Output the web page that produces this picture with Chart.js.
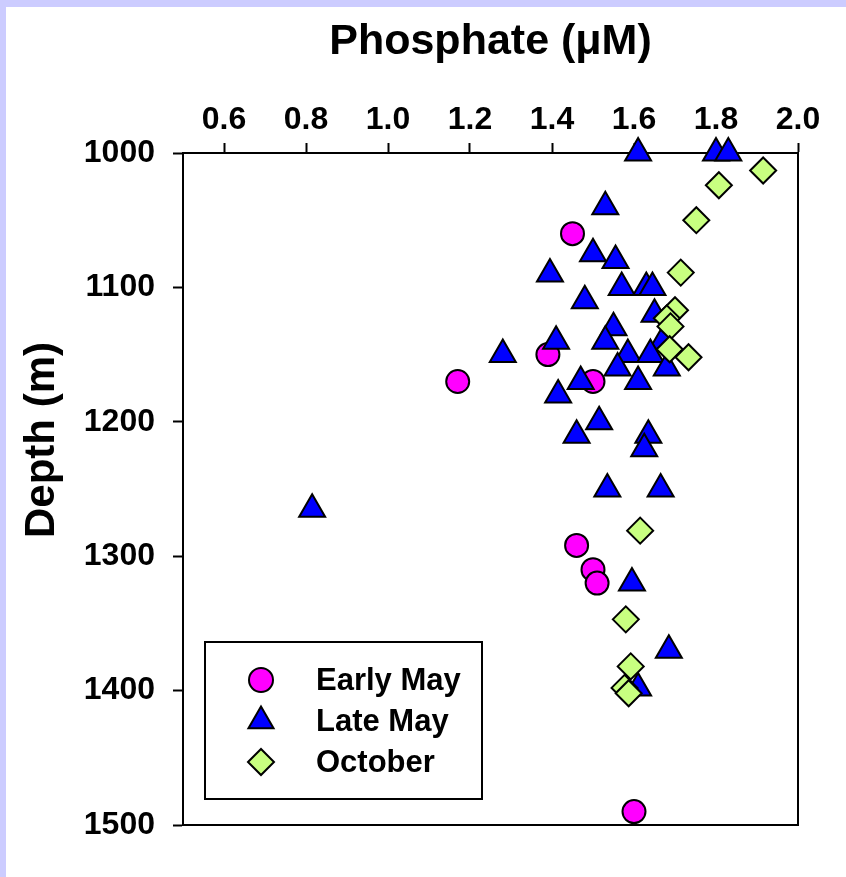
<!DOCTYPE html>
<html>
<head>
<meta charset="utf-8">
<script src="https://cdn.jsdelivr.net/npm/chart.js@4.4.1/dist/chart.umd.min.js"></script>
<style>
  html, body { margin: 0; padding: 0; background: #ccccff; }
  #wrap { position: absolute; left: 6px; top: 7px; width: 840px; height: 870px; background: #fff; }
</style>
</head>
<body>
<div id="wrap"><canvas id="phosChart"></canvas></div>
<script>
// Phosphate vs depth profile, three sampling periods

const seriesNames = ['Early May', 'Late May', 'October'];

const earlyMayPhos  = [1.45, 1.39, 1.17, 1.50, 1.46, 1.50, 1.51, 1.60];
const earlyMayDepth = [1060, 1150, 1170, 1170, 1292, 1310, 1320, 1490];

const lateMayPhos  = [1.61, 1.80, 1.83, 1.53, 1.50, 1.555, 1.395, 1.57, 1.63, 1.645, 1.48, 1.65, 1.55, 1.41, 1.53, 1.67, 1.28,
                      1.585, 1.64, 1.56, 1.68, 1.47, 1.61, 1.415, 1.515, 1.46, 1.635, 1.625, 1.535, 1.665, 0.815, 1.595, 1.685, 1.61];
const lateMayDepth = [1000, 1000, 1000, 1040, 1075, 1080, 1090, 1100, 1100, 1100, 1110, 1120, 1130, 1140, 1140, 1140, 1150,
                      1150, 1150, 1160, 1160, 1170, 1170, 1180, 1200, 1210, 1210, 1220, 1250, 1250, 1265, 1320, 1370, 1398];

const octoberPhos  = [1.915, 1.807, 1.752, 1.714, 1.70, 1.68, 1.689, 1.687, 1.733, 1.615, 1.58, 1.592, 1.577, 1.587];
const octoberDepth = [1013, 1024, 1050, 1089, 1117, 1123, 1129, 1146, 1152, 1281, 1347, 1382, 1398, 1402];

const phosTicks  = [0.6, 0.8, 1.0, 1.2, 1.4, 1.6, 1.8, 2.0];
const depthTicks = [1000, 1100, 1200, 1300, 1400, 1500];

function toPoints(xs, ys) {
  return xs.map((x, i) => ({ x: x, y: ys[i] }));
}

Chart.defaults.font.family = 'Arial, "Liberation Sans", sans-serif';
Chart.defaults.color = '#000';

// frame round the plot area
const frameBox = {
  id: 'frameBox',
  beforeDatasetsDraw(chart) {
    const { ctx, chartArea: a } = chart;
    ctx.save();
    ctx.strokeStyle = '#000';
    ctx.lineWidth = 2;
    ctx.strokeRect(a.left, a.top, a.right - a.left, a.bottom - a.top);
    ctx.restore();
  }
};

// rotated y title, sits a bit above the middle like the original
const depthTitle = {
  id: 'depthTitle',
  afterDraw(chart) {
    const ctx = chart.ctx;
    ctx.save();
    ctx.translate(36, 433);
    ctx.rotate(-Math.PI / 2);
    ctx.font = 'bold 42px Arial, "Liberation Sans", sans-serif';
    ctx.fillStyle = '#000';
    ctx.textAlign = 'center';
    ctx.textBaseline = 'middle';
    ctx.fillText('Depth (m)', 0, 0);
    ctx.restore();
  }
};

// boxed legend in the lower left of the plot
const boxLegend = {
  id: 'boxLegend',
  afterDatasetsDraw(chart) {
    const { ctx, chartArea: a } = chart;
    const left = a.left + 22, top = a.bottom - 26 - 157;
    ctx.save();
    ctx.fillStyle = '#fff';
    ctx.fillRect(left, top, 277, 157);
    ctx.strokeStyle = '#000';
    ctx.lineWidth = 2;
    ctx.strokeRect(left, top, 277, 157);
    const rows = [38, 79, 120];
    chart.data.datasets.forEach((ds, i) => {
      ctx.fillStyle = ds.backgroundColor;
      ctx.strokeStyle = ds.borderColor;
      ctx.lineWidth = 2;
      const r = ds.pointStyle === 'circle' ? 12 : ds.pointStyle === 'triangle' ? 14.5 : 13;
      Chart.helpers.drawPoint(ctx, { pointStyle: ds.pointStyle, radius: r, borderWidth: 2, rotation: 0 }, left + 56, top + rows[i]);
      ctx.fillStyle = '#000';
      ctx.font = 'bold 31px Arial, "Liberation Sans", sans-serif';
      ctx.textAlign = 'left';
      ctx.textBaseline = 'middle';
      ctx.fillText(ds.label, left + 111, top + rows[i] + 1);
    });
    ctx.restore();
  }
};

new Chart(document.getElementById('phosChart'), {
  type: 'scatter',
  data: {
    datasets: [
      {
        label: seriesNames[0],
        data: toPoints(earlyMayPhos, earlyMayDepth),
        pointStyle: 'circle',
        pointRadius: 11.5,
        backgroundColor: '#ff00ff',
        borderColor: '#000',
        borderWidth: 2,
        order: 2,
        clip: false
      },
      {
        label: seriesNames[1],
        data: toPoints(lateMayPhos, lateMayDepth),
        pointStyle: 'triangle',
        pointRadius: 15,
        backgroundColor: '#0000ff',
        borderColor: '#000',
        borderWidth: 2,
        order: 1,
        clip: false
      },
      {
        label: seriesNames[2],
        data: toPoints(octoberPhos, octoberDepth),
        pointStyle: 'rectRot',
        pointRadius: 13,
        backgroundColor: '#c8ff80',
        borderColor: '#000',
        borderWidth: 2,
        order: 0,
        clip: false
      }
    ]
  },
  options: {
    responsive: true,
    maintainAspectRatio: false,
    animation: false,
    layout: { padding: { left: 0, top: 0, right: 48, bottom: 52 } },
    plugins: {
      legend: { display: false },
      tooltip: { enabled: false }
    },
    scales: {
      x: {
        type: 'linear',
        position: 'top',
        min: 0.5,
        max: 2.0,
        afterBuildTicks: s => { s.ticks = phosTicks.map(v => ({ value: v })); },
        afterFit: s => { s.height = 146; },
        ticks: {
          padding: 4,
          font: { size: 32, weight: 'bold' },
          callback: v => v.toFixed(1)
        },
        grid: { drawOnChartArea: false, drawTicks: true, tickLength: 10, tickWidth: 2, tickColor: '#000' },
        border: { display: true, color: '#000', width: 2 },
        title: {
          display: true,
          text: 'Phosphate (\u03bcM)',
          font: { size: 43, weight: 'bold' },
          padding: { top: 9, bottom: 0 }
        }
      },
      y: {
        type: 'linear',
        reverse: true,
        min: 1000,
        max: 1500,
        afterBuildTicks: s => { s.ticks = depthTicks.map(v => ({ value: v })); },
        afterFit: s => { s.width = 177; },
        ticks: {
          padding: 18,
          font: { size: 32, weight: 'bold' },
          callback: v => String(v)
        },
        grid: { drawOnChartArea: false, drawTicks: true, tickLength: 10, tickWidth: 2, tickColor: '#000' },
        border: { display: true, color: '#000', width: 2 }
      }
    }
  },
  plugins: [frameBox, depthTitle, boxLegend]
});
</script>
</body>
</html>
